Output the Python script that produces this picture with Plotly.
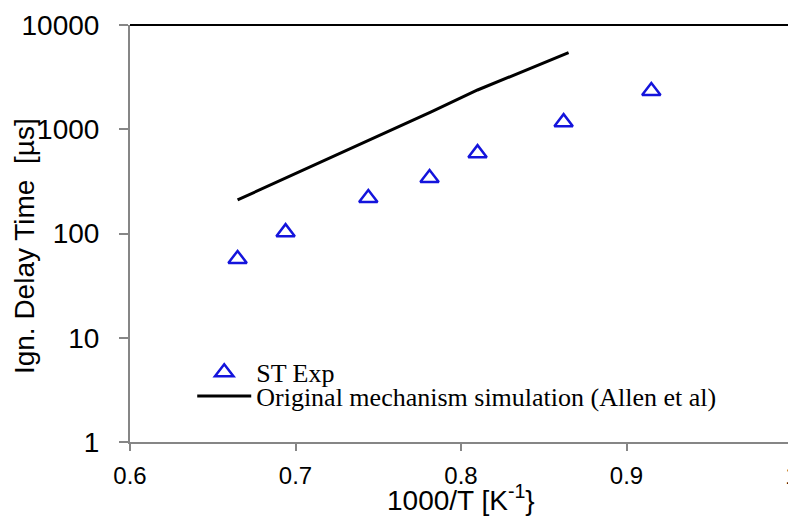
import plotly.graph_objects as go

# Experimental shock-tube data
exp_x = [0.665, 0.694, 0.744, 0.781, 0.810, 0.862, 0.915]
exp_y = [57, 103, 219, 340, 590, 1170, 2330]

# Original mechanism simulation (Allen et al)
sim_x = [0.665, 0.696, 0.747, 0.782, 0.810, 0.865]
sim_y = [210, 350, 824, 1470, 2380, 5420]

x_ticks = [0.6, 0.7, 0.8, 0.9, 1.0]
x_ticktext = ["0.6", "0.7", "0.8", "0.9", "1"]
y_ticks = [1, 10, 100, 1000, 10000]
y_ticktext = ["1", "10", "100", "1000", "10000"]

fig = go.Figure()
fig.add_trace(go.Scatter(
    x=exp_x, y=exp_y, mode="markers", name="ST Exp", legend="legend",
    marker=dict(symbol="triangle-up-open", size=16, color="#1414DC",
                line=dict(width=2.5, color="#1414DC")),
))
fig.add_trace(go.Scatter(
    x=sim_x, y=sim_y, mode="lines", legend="legend2",
    name="Original mechanism simulation (Allen et al)",
    line=dict(color="black", width=3),
))

legend_font = dict(family="Liberation Serif, Times New Roman", size=26, color="black")

# The page body adds an 8px offset, so the figure is 8px smaller and margins shifted.
fig.update_layout(
    width=788, height=508,
    margin=dict(l=122, r=4, t=17, b=74),
    plot_bgcolor="white", paper_bgcolor="white",
    font=dict(family="Liberation Sans, Arial", color="black"),
    showlegend=True,
    legend=dict(
        x=0.094, y=0.167, xanchor="left", yanchor="middle",
        font=legend_font, itemwidth=54,
        bgcolor="rgba(0,0,0,0)", tracegroupgap=0,
    ),
    legend2=dict(
        x=0.094, y=0.11, xanchor="left", yanchor="middle",
        font=legend_font, itemwidth=54,
        bgcolor="rgba(0,0,0,0)", tracegroupgap=0,
    ),
    xaxis=dict(
        range=[0.6, 1.0], tickvals=x_ticks, ticktext=x_ticktext,
        showgrid=False, zeroline=False, automargin=False,
        showline=True, linecolor="#868686", linewidth=2,
        ticks="outside", ticklen=7, tickcolor="#868686", tickwidth=2,
        tickfont=dict(size=24), ticklabelstandoff=4,
        ticklabeloverflow="allow",
    ),
    yaxis=dict(
        type="log", range=[0, 4], tickvals=y_ticks, ticktext=y_ticktext,
        showgrid=False, zeroline=False, automargin=False,
        showline=True, linecolor="#868686", linewidth=2,
        ticks="outside", ticklen=9, tickcolor="#868686", tickwidth=2,
        tickfont=dict(size=28), ticklabelstandoff=14,
        ticklabeloverflow="allow",
    ),
    shapes=[
        dict(type="line", xref="paper", yref="paper", x0=0, x1=1, y0=1, y1=1,
             line=dict(color="black", width=2)),
        dict(type="line", xref="paper", yref="paper", x0=1, x1=1, y0=0, y1=1,
             line=dict(color="black", width=2)),
    ],
    annotations=[
        dict(text="1000/T [K<sup>-1</sup>}", xref="paper", yref="paper",
             x=0.5, y=-0.135, xanchor="center", yanchor="middle",
             showarrow=False, font=dict(size=28)),
        dict(text="Ign. Delay Time  [µs]", xref="paper", yref="paper",
             x=-0.16, y=0.47, xanchor="center", yanchor="middle", textangle=-90,
             showarrow=False, font=dict(size=28)),
    ],
)

fig.write_html("out.html")
